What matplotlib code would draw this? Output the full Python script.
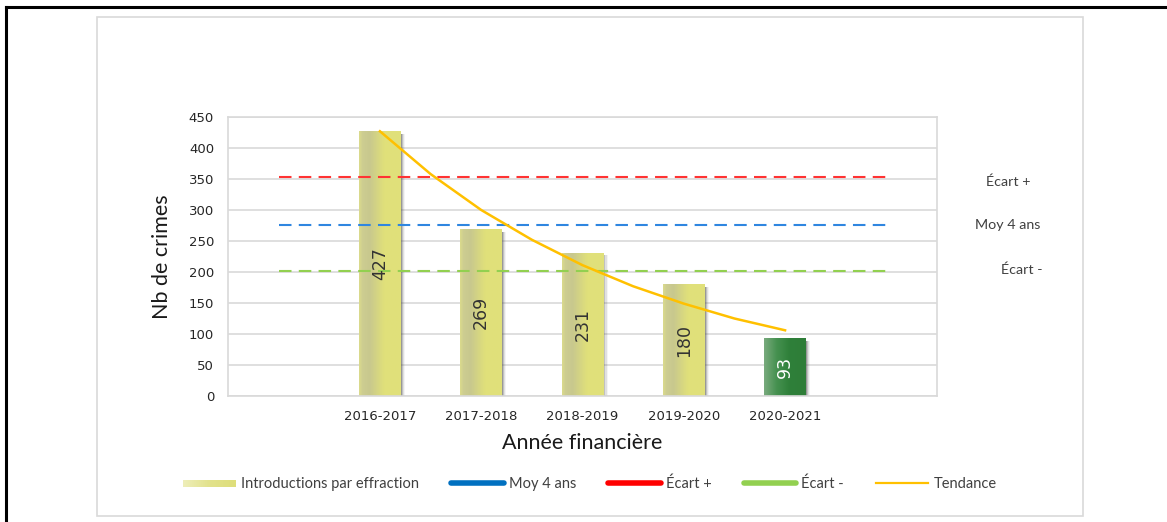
import numpy as np
import matplotlib.pyplot as plt
from matplotlib.patches import Rectangle
from matplotlib.lines import Line2D
from matplotlib.legend_handler import HandlerBase
from matplotlib.image import BboxImage
from matplotlib.transforms import Bbox, TransformedBbox

plt.rcParams['font.family'] = ['Lato', 'DejaVu Sans']

# data
years = ['2016-2017', '2017-2018', '2018-2019', '2019-2020', '2020-2021']
crimes = [427, 269, 231, 180, 93]
moy_4ans = 276
ecart_plus = 353
ecart_moins = 201
# trend curve read every half year, from 2016-2017 to 2020-2021
tendance = [427, 358, 300, 252, 211, 177, 149, 125, 106]

fig = plt.figure(figsize=(11.67, 5.22), dpi=100)

# frames round the chart
fig.add_artist(Rectangle((97/1167, 1-516/522), 986/1167, 499/522, transform=fig.transFigure,
                         fill=False, ec='#d9d9d9', lw=1.2))
fig.add_artist(Line2D([6/1167, 1], [1-7/522, 1-7/522], transform=fig.transFigure, color='black', lw=2.2))
fig.add_artist(Line2D([6/1167, 6/1167], [0, 1-7/522], transform=fig.transFigure, color='black', lw=2.2))

ax = fig.add_axes([228/1167, 1-396/522, 709/1167, 279/522])
x = np.arange(1, len(years)+1)
w = 0.41

ax.set_xlim(-0.5, 6.5)
ax.set_ylim(0, 450)
ax.set_yticks(range(0, 451, 50))
ax.set_xticks(x)
ax.set_xticklabels(years, fontsize=9.5, family='DejaVu Sans', color='#262626')
ax.tick_params(axis='y', labelsize=9.5, labelcolor='#262626', length=0, pad=10)
ax.tick_params(axis='x', length=0, pad=10)
for t in ax.get_yticklabels():
    t.set_family('DejaVu Sans')
ax.grid(axis='y', color='#d9d9d9', lw=1.2)
ax.set_axisbelow(True)
for s in ax.spines.values():
    s.set_color('#d9d9d9')
    s.set_linewidth(1.2)

# gradients for the bars (left to right)
yel_pos = [0, 0.08, 0.25, 0.45, 0.6, 1]
yel = np.array([[218, 218, 140], [205, 205, 145], [200, 200, 142], [214, 214, 130],
                [224, 224, 122], [225, 225, 122]]) / 255
grn_pos = [0, 0.3, 0.6, 1]
grn = np.array([[120, 170, 125], [70, 145, 80], [47, 128, 58], [46, 125, 56]]) / 255
leg_pos = [0, 0.5, 1]
leg_cols = np.array([[238, 238, 185], [226, 226, 140], [222, 222, 122]]) / 255


def grad(cols, pos, n=64):
    t = np.linspace(0, 1, n)
    img = np.stack([np.interp(t, pos, cols[:, k]) for k in range(3)], axis=-1)
    return np.tile(img[None, :, :], (8, 1, 1))


for i, (xi, v) in enumerate(zip(x, crimes)):
    last = i == len(crimes)-1
    cols, pos = (grn, grn_pos) if last else (yel, yel_pos)
    # shadow on the right
    for k, a in enumerate([0.35, 0.22, 0.12, 0.06]):
        ax.add_patch(Rectangle((xi - w/2 + 0.012 + k*0.01, -1), w, v - 3, fc='#505050',
                               ec='none', alpha=a, zorder=1.5))
    bar = ax.bar(xi, v, width=w, color=cols[-1], zorder=2)[0]
    im = ax.imshow(grad(cols, pos), extent=(xi - w/2, xi + w/2, 0, v), aspect='auto',
                   zorder=2.1, interpolation='bilinear')
    im.set_clip_path(bar)
    tc = 'white' if last else '#333333'
    ax.text(xi, v/2, str(v), rotation=90, ha='center', va='center', fontsize=12.5,
            family='DejaVu Sans', color=tc, zorder=5)

ax.hlines(ecart_plus, 0, 6, colors='#ff3333', linestyles=(0, (6, 3.5)), lw=1.5, zorder=3)
ax.hlines(moy_4ans, 0, 6, colors='#2f86e0', linestyles=(0, (6, 3.5)), lw=1.5, zorder=3)
ax.hlines(ecart_moins, 0, 6, colors='#92d050', linestyles=(0, (6, 3.5)), lw=1.5, zorder=3)
ax.plot(np.linspace(1, 5, len(tendance)), tendance, color='#ffc000', lw=1.8, zorder=4)

ax.set_xlabel('Année financière', fontsize=15.5, color='#1a1a1a', labelpad=7)
ax.set_ylabel('Nb de crimes', fontsize=15.5, color='#1a1a1a', labelpad=12)

# labels on the right
fig.text(1008/1167, 1-182/522, 'Écart +', ha='center', va='center', fontsize=10.3, color='#404040')
fig.text(1008/1167, 1-225/522, 'Moy 4 ans', ha='center', va='center', fontsize=10.3, color='#404040')
fig.text(1022/1167, 1-270/522, 'Écart -', ha='center', va='center', fontsize=10.3, color='#404040')


class GradHandler(HandlerBase):
    def create_artists(self, legend, orig, xd, yd, width, height, fontsize, trans):
        bb = Bbox.from_bounds(xd, yd + height*0.15, width, height*0.6)
        bi = BboxImage(TransformedBbox(bb, trans), interpolation='bilinear')
        bi.set_data(grad(leg_cols, leg_pos))
        return [bi]


handles = [Rectangle((0, 0), 1, 1),
           Line2D([], [], color='#0070c0', lw=4, solid_capstyle='round'),
           Line2D([], [], color='#ff0000', lw=4, solid_capstyle='round'),
           Line2D([], [], color='#92d050', lw=4, solid_capstyle='round'),
           Line2D([], [], color='#ffc000', lw=1.6)]
labels = ['Introductions par effraction', 'Moy 4 ans', 'Écart +', 'Écart -', 'Tendance']
leg = fig.legend(handles, labels, loc='center', bbox_to_anchor=(590/1167, 1-484/522), ncol=5,
                 frameon=False, fontsize=10.5, handlelength=3.6, handletextpad=0.35,
                 columnspacing=2.2, handler_map={Rectangle: GradHandler()})
for t in leg.get_texts():
    t.set_color('#404040')

fig.savefig('out.png', dpi=100)
